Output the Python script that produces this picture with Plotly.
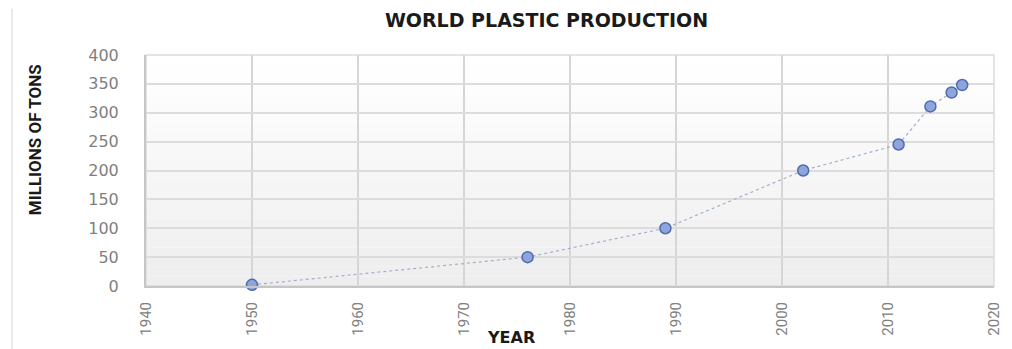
import plotly.graph_objects as go

years = [1950, 1976, 1989, 2002, 2011, 2014, 2016, 2017]
production = [2, 50, 100, 200, 245, 311, 335, 348]

x_ticks = [1940, 1950, 1960, 1970, 1980, 1990, 2000, 2010, 2020]
y_ticks = [0, 50, 100, 150, 200, 250, 300, 350, 400]

fig = go.Figure()
fig.add_trace(go.Scatter(
    x=years, y=production, mode="lines+markers",
    line=dict(color="#a3b0cc", width=1.2, dash="dot"),
    marker=dict(size=11, color="#8ea5dc", line=dict(color="#4f6cae", width=1.5)),
    showlegend=False, cliponaxis=False,
))

# background gradient (white at top to light grey at bottom)
n = 24
shapes = []
for i in range(n):
    t = i / (n - 1)
    g = int(round(255 - 17 * (1 - t)))
    shapes.append(dict(type="rect", xref="x domain", yref="y domain",
                       x0=0, x1=1, y0=i / n, y1=(i + 1) / n,
                       fillcolor=f"rgb({g},{g},{g})", line=dict(width=0), layer="below"))
# faint screenshot border line on left
shapes.append(dict(type="line", xref="paper", yref="paper",
                   x0=-0.158, x1=-0.158, y0=1.2, y1=-0.28,
                   line=dict(color="#e3e3e3", width=1.5)))
# plot frame
shapes.append(dict(type="rect", xref="x domain", yref="y domain", x0=0, x1=1, y0=0, y1=1,
                   line=dict(color="#dcdcdc", width=1.5), layer="below"))

fig.update_layout(
    width=1012, height=349,
    margin=dict(l=146, r=9, t=55, b=63),
    paper_bgcolor="white",
    plot_bgcolor="white",
    shapes=shapes,
    title=dict(text="<b>WORLD PLASTIC PRODUCTION</b>", x=0.54, xanchor="center",
               y=1 - 20 / 349, yanchor="middle", yref="container",
               font=dict(family="DejaVu Sans, sans-serif", size=19, color="#1a1a1a")),
    xaxis=dict(range=[1940, 2020], tickvals=x_ticks, ticktext=[str(v) for v in x_ticks],
               tickangle=-90, showgrid=True, gridcolor="#d6d6d6", gridwidth=1.5,
               zeroline=False, showline=True, linecolor="#c6c6c6", linewidth=2,
               ticks="", ticklabelstandoff=8,
               tickfont=dict(family="Liberation Sans Narrow, Roboto, sans-serif", size=15, color="#808080")),
    yaxis=dict(range=[0, 400], tickvals=y_ticks, showgrid=True, gridcolor="#dcdcdc", gridwidth=1.5,
               zeroline=False, showline=True, linecolor="#c6c6c6", linewidth=2,
               ticks="", ticklabelstandoff=22,
               tickfont=dict(family="DejaVu Sans, sans-serif", size=16, color="#7f7f7f")),
    annotations=[
        dict(text="<b>MILLIONS OF TONS</b>", textangle=-90, xref="paper", yref="paper",
             x=(34 - 146) / 857, y=(286 - 140) / 231, xanchor="center", yanchor="middle",
             showarrow=False,
             font=dict(family="Roboto, sans-serif", size=17, color="#1a1a1a")),
        dict(text="<b>YEAR</b>", xref="paper", yref="paper",
             x=(515 - 146) / 857, y=(286 - 337) / 231, xanchor="center", yanchor="middle",
             showarrow=False,
             font=dict(family="DejaVu Sans, sans-serif", size=16, color="#1a1a1a")),
    ],
)

fig.write_html("out.html")
